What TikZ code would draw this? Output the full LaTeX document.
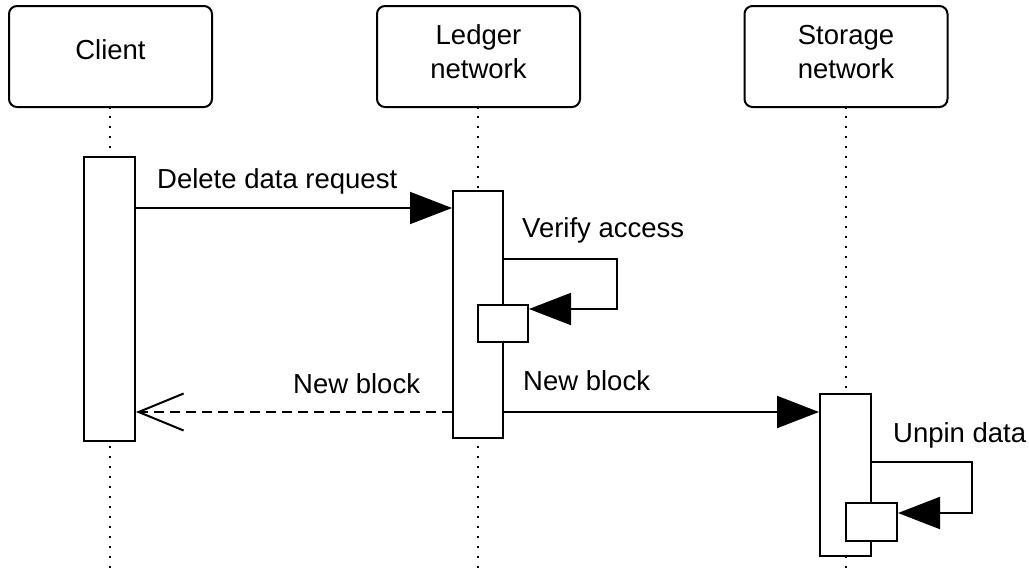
\documentclass[tikz,border=0pt]{standalone}
\usepackage{fontspec}
\setmainfont{Liberation Sans}
\usetikzlibrary{arrows.meta}
\begin{document}
\begin{tikzpicture}[x=1pt,y=-1pt,
  font=\fontsize{27.5}{34}\selectfont,
  header/.style={draw,line width=2pt,rounded corners=8pt,minimum width=203pt,minimum height=101pt,inner sep=0pt},
  hlabel/.style={inner sep=0pt,align=center},
  lifeline/.style={line width=2.2pt,dash pattern=on 2.2pt off 7.8pt,dash phase=-8pt},
  act/.style={draw,fill=white,line width=2pt,inner sep=0pt},
  msg/.style={line width=2pt,-{Triangle[length=42pt,width=32pt]}},
  ret/.style={line width=2pt,dash pattern=on 10pt off 6pt,-{Straight Barb[length=45pt,width=37pt,line width=2pt]}},
  mlabel/.style={anchor=base west,inner sep=0pt}]
\useasboundingbox (0,0) rectangle (1029,574);
% headers
\node[header] (client) at (110.5,56.5) {};
\node[header] (ledger) at (478.5,56.5) {};
\node[header] (storage) at (846,56.5) {};
\node[hlabel] (clientlbl) at (110.5,49.5) {Client};
\node[hlabel] (ledgerlbl) at (478.5,52) {Ledger\\network};
\node[hlabel] (storagelbl) at (846,52) {Storage\\network};
% lifeline ends
\coordinate (cend) at (110,574);
\coordinate (lend) at (478,574);
\coordinate (send) at (846,574);
\draw[lifeline] (client.south -| cend) -- (cend);
\draw[lifeline] (ledger.south -| lend) -- (lend);
\draw[lifeline] (storage.south -| send) -- (send);
% activations
\node[act,minimum width=51pt,minimum height=284pt] (cact) at (109.5,299) {};
\node[act,minimum width=50pt,minimum height=247pt] (lact) at (478,314.5) {};
\node[act,minimum width=50pt,minimum height=37pt] (lsub) at (503,323.5) {};
\node[act,minimum width=51pt,minimum height=162pt] (sact) at (845.5,475) {};
\node[act,minimum width=51pt,minimum height=38pt] (ssub) at (871.5,522) {};
% loop corners
\coordinate (lloop) at (617,259);
\coordinate (sloop) at (972,462);
% messages
\draw[msg] (cact.east |- 0,208) -- (lact.west |- 0,208);
\node[mlabel] (m1) at (157,188) {Delete data request};
\draw[msg] (lact.east |- lloop) -- (lloop) |- (lsub.east |- 0,309);
\node[mlabel] (m2) at (522,237) {Verify access};
\draw[ret] (lact.west |- 0,412) -- (cact.east |- 0,412);
\node[mlabel] (m3) at (293,393) {New block};
\draw[msg] (lact.east |- 0,412) -- (sact.west |- 0,412);
\node[mlabel] (m4) at (523,390) {New block};
\draw[msg] (sact.east |- sloop) -- (sloop) |- (ssub.east |- 0,513);
\node[mlabel] (m5) at (893,442) {Unpin data};
\end{tikzpicture}
\end{document}
